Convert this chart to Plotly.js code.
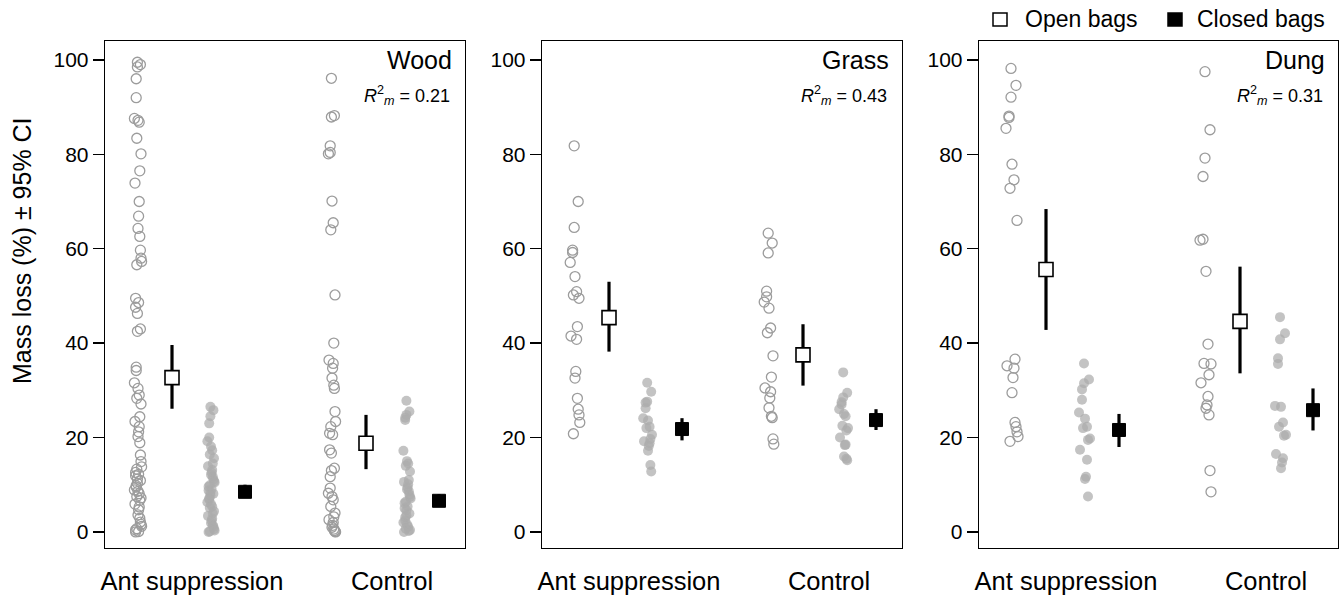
<!DOCTYPE html>
<html>
<head>
<meta charset="utf-8">
<script src="https://cdn.plot.ly/plotly-3.0.1.min.js"></script>
<style>html,body{margin:0;padding:0;background:#fff;}#chart{width:1344px;height:600px;}</style>
</head>
<body>
<div id="chart"></div>
<script>
// ---------- DATA ----------
const panels = ["Wood", "Grass", "Dung"];
const r2m = ["0.21", "0.43", "0.31"];
const groups = ["Ant suppression", "Control"];

// Wood
const woodAntOpen = [99.5, 99.0, 98.5, 96.0, 92.0, 87.6, 87.2, 86.8, 83.4, 80.1, 76.5, 73.9, 70.0, 66.9, 64.3, 62.6, 59.7, 58.0, 57.3, 56.6,
  49.5, 48.6, 47.6, 46.3, 43.0, 42.5, 34.9, 34.2, 31.6, 30.4, 29.0, 28.3, 27.1, 24.4, 23.4, 22.3, 21.2, 20.2, 18.9, 16.3,
  14.9, 13.8, 13.3, 12.6, 12.2, 11.9, 11.2, 10.9, 10.3, 9.8, 9.5, 8.9, 8.6, 8.1, 7.5, 7.2, 6.7, 5.9, 5.3, 4.7,
  3.6, 2.9, 2.1, 1.6, 1.2, 0.7, 0.4, 0.1, 0.0];
const woodAntClosed = [26.5, 25.8, 24.5, 23.0, 20.0, 19.2, 18.1, 17.3, 16.4, 15.6, 14.5, 13.9, 13.1, 12.6, 12.1, 11.7, 11.1, 10.7, 10.5, 9.9,
  9.6, 9.1, 8.8, 8.3, 8.1, 7.7, 7.1, 6.9, 6.3, 5.9, 5.4, 5.1, 4.4, 3.9, 3.4, 2.8, 2.4, 1.9, 1.4, 1.1, 0.6, 0.3, 0.1, 0.0];
const woodCtrlOpen = [96.1, 88.2, 87.9, 81.8, 80.4, 80.1, 70.1, 65.5, 64.0, 50.2, 40.0, 36.4, 35.7, 34.7, 32.6, 31.1, 30.4, 25.5, 23.4, 22.3,
  20.9, 20.6, 17.4, 16.7, 13.5, 13.0, 11.7, 9.3, 8.2, 7.5, 6.8, 5.4, 4.0, 3.2, 2.6, 2.0, 1.4, 1.0, 0.6, 0.3, 0.1, 0.0];
const woodCtrlClosed = [27.8, 25.5, 24.8, 24.2, 23.7, 17.2, 15.0, 14.5, 14.0, 12.8, 11.0, 10.6, 10.1, 9.4, 9.0, 8.6, 7.9, 7.4, 7.1, 6.4,
  6.1, 5.4, 5.0, 4.6, 3.9, 3.5, 3.1, 2.4, 2.0, 1.6, 1.1, 0.7, 0.4, 0.2, 0.0];

// Grass
const grassAntOpen = [81.8, 70.0, 64.5, 59.7, 59.2, 57.1, 54.1, 50.9, 50.2, 49.5, 43.5, 41.5, 40.8, 34.0, 32.6, 28.3, 26.0, 24.8, 23.2, 20.8];
const grassAntClosed = [31.6, 29.7, 27.6, 27.4, 26.2, 24.1, 23.6, 22.3, 22.0, 20.6, 19.7, 19.2, 18.8, 18.2, 17.2, 14.2, 12.8];
const grassCtrlOpen = [63.3, 61.2, 59.1, 51.0, 49.8, 48.7, 47.4, 43.2, 42.2, 37.3, 32.8, 30.5, 29.7, 28.4, 26.3, 24.5, 24.2, 19.7, 18.6];
const grassCtrlClosed = [33.8, 29.5, 28.5, 27.5, 27.0, 26.0, 25.0, 24.5, 22.5, 22.0, 21.5, 20.0, 18.5, 18.4, 16.0, 15.5, 15.2];

// Dung
const dungAntOpen = [98.2, 94.6, 92.1, 88.1, 87.8, 85.5, 77.9, 74.6, 72.8, 66.0, 36.6, 35.2, 34.7, 32.7, 29.5, 23.2, 22.3, 21.2, 20.2, 19.2];
const dungAntClosed = [35.7, 32.3, 31.5, 30.2, 28.0, 25.3, 24.0, 22.3, 22.0, 19.8, 19.5, 17.4, 15.3, 11.7, 11.2, 7.5];
const dungCtrlOpen = [97.5, 85.2, 79.2, 75.3, 62.0, 61.8, 55.2, 39.8, 35.7, 35.6, 33.3, 31.6, 28.7, 26.9, 26.2, 24.8, 13.0, 8.5];
const dungCtrlClosed = [45.5, 42.1, 40.8, 36.8, 35.6, 26.7, 26.5, 23.2, 22.3, 20.6, 20.4, 16.5, 15.6, 14.7, 13.5];

// Means and 95% CI  [Ant suppression, Control]
const woodOpenMean = [32.7, 18.8],   woodOpenLo = [26.1, 13.3],   woodOpenHi = [39.6, 24.8];
const woodClosedMean = [8.5, 6.6],   woodClosedLo = [7.2, 5.3],   woodClosedHi = [10.0, 8.0];
const grassOpenMean = [45.4, 37.5],  grassOpenLo = [38.2, 31.0],  grassOpenHi = [53.0, 44.0];
const grassClosedMean = [21.8, 23.7],grassClosedLo = [19.4, 21.6],grassClosedHi = [24.1, 26.0];
const dungOpenMean = [55.6, 44.6],   dungOpenLo = [42.8, 33.6],   dungOpenHi = [68.4, 56.2];
const dungClosedMean = [21.6, 25.8], dungClosedLo = [18.0, 21.5], dungClosedHi = [25.0, 30.4];

const yTicks = [0, 20, 40, 60, 80, 100];

// ---------- LAYOUT / STYLE ----------
const W = 1344, H = 600;
const FONT = "Liberation Sans, Arial, Helvetica, sans-serif";
const fx = p => p / W;
const fy = p => 1 - p / H;
const boxes = [[105, 465], [542, 902], [979, 1338]];
const yTop = 41, yBot = 548;
// x positions inside each panel (axis units = pixels from panel left)
const pos = {openA: 33, meanA: 67, closedA: 106, cmeanA: 140, openC: 227, meanC: 261, closedC: 302, cmeanC: 334};
const jit = [-1, 3, -4, 2, 5, -3, 0, 4, -5, 1, -2, 6, -6, 3, -1, 2, -4, 5, -2, 0, 4, -3, 1];
const jitScale = [0.6, 0.8, 1.0];

const data = {
  Wood: {antO: woodAntOpen, antC: woodAntClosed, ctlO: woodCtrlOpen, ctlC: woodCtrlClosed,
         om: woodOpenMean, ol: woodOpenLo, oh: woodOpenHi, cm: woodClosedMean, cl: woodClosedLo, ch: woodClosedHi},
  Grass: {antO: grassAntOpen, antC: grassAntClosed, ctlO: grassCtrlOpen, ctlC: grassCtrlClosed,
         om: grassOpenMean, ol: grassOpenLo, oh: grassOpenHi, cm: grassClosedMean, cl: grassClosedLo, ch: grassClosedHi},
  Dung: {antO: dungAntOpen, antC: dungAntClosed, ctlO: dungCtrlOpen, ctlC: dungCtrlClosed,
         om: dungOpenMean, ol: dungOpenLo, oh: dungOpenHi, cm: dungClosedMean, cl: dungClosedLo, ch: dungClosedHi}
};

const traces = [];
const layout = {
  width: W, height: H, margin: {l: 0, r: 0, t: 0, b: 0},
  paper_bgcolor: "#fff", plot_bgcolor: "#fff", showlegend: false,
  font: {family: FONT, color: "#000", size: 16},
  annotations: [], shapes: []
};

function jittered(vals, center, s) {
  return vals.map((v, i) => center + jit[(i * 7) % jit.length] * s);
}

panels.forEach((name, k) => {
  const d = data[name];
  const xa = k === 0 ? "x" : "x" + (k + 1);
  const ya = k === 0 ? "y" : "y" + (k + 1);
  const s = jitScale[k];
  const openStyle = {symbol: "circle-open", size: 10, color: "#9c9c9c", line: {width: 1.3, color: "#9c9c9c"}};
  const closedStyle = {symbol: "circle", size: 10, color: "rgba(172,172,172,0.72)", line: {width: 0}};
  traces.push({type: "scatter", mode: "markers", name: groups[0] + " open", xaxis: xa, yaxis: ya, x: jittered(d.antO, pos.openA, s), y: d.antO, marker: openStyle});
  traces.push({type: "scatter", mode: "markers", name: groups[1] + " open", xaxis: xa, yaxis: ya, x: jittered(d.ctlO, pos.openC, s), y: d.ctlO, marker: openStyle});
  traces.push({type: "scatter", mode: "markers", name: groups[0] + " closed", xaxis: xa, yaxis: ya, x: jittered(d.antC, pos.closedA, s), y: d.antC, marker: closedStyle});
  traces.push({type: "scatter", mode: "markers", name: groups[1] + " closed", xaxis: xa, yaxis: ya, x: jittered(d.ctlC, pos.closedC, s), y: d.ctlC, marker: closedStyle});
  // means with CI
  traces.push({type: "scatter", mode: "markers", name: "Open bags", xaxis: xa, yaxis: ya,
    x: [pos.meanA, pos.meanC], y: d.om,
    error_y: {type: "data", symmetric: false, array: d.oh.map((h, i) => h - d.om[i]), arrayminus: d.om.map((m, i) => m - d.ol[i]), color: "#000", thickness: 3.2, width: 0},
    marker: {symbol: "square", size: 14, color: "#fff", line: {color: "#000", width: 1.6}}});
  traces.push({type: "scatter", mode: "markers", name: "Closed bags", xaxis: xa, yaxis: ya,
    x: [pos.cmeanA, pos.cmeanC], y: d.cm,
    error_y: {type: "data", symmetric: false, array: d.ch.map((h, i) => h - d.cm[i]), arrayminus: d.cm.map((m, i) => m - d.cl[i]), color: "#000", thickness: 3.2, width: 0},
    marker: {symbol: "square", size: 13, color: "#000", line: {color: "#000", width: 1}}});

  const [x0, x1] = boxes[k];
  const xKey = k === 0 ? "xaxis" : "xaxis" + (k + 1);
  const yKey = k === 0 ? "yaxis" : "yaxis" + (k + 1);
  layout[xKey] = {
    domain: [fx(x0), fx(x1)], range: [0, x1 - x0], anchor: ya,
    showline: true, mirror: true, linecolor: "#000", linewidth: 1.3,
    ticks: "", tickvals: [87, 287], ticktext: groups, ticklabelstandoff: 10,
    tickfont: {size: 25.5, family: FONT, color: "#000"},
    showgrid: false, zeroline: false, fixedrange: true
  };
  layout[yKey] = {
    domain: [fy(yBot), fy(yTop)], range: [-3.4, 104], anchor: xa,
    showline: true, mirror: true, linecolor: "#000", linewidth: 1.3,
    ticks: "outside", ticklen: 11, tickwidth: 1.3, tickcolor: "#000",
    tickvals: yTicks, ticktext: yTicks.map(String),
    tickfont: {size: 21, family: FONT, color: "#000"},
    showgrid: false, zeroline: false, fixedrange: true
  };
  layout.annotations.push({xref: "paper", yref: "paper", x: fx(x1 - 11), y: fy(60), xanchor: "right", yanchor: "middle",
    text: name, showarrow: false, font: {size: 25, family: FONT, color: "#000"}});
  layout.annotations.push({xref: "paper", yref: "paper", x: fx(x1 - 13), y: fy(95), xanchor: "right", yanchor: "middle",
    text: "<i>R</i><sup>2</sup><sub><i>m</i></sub> = " + r2m[k], showarrow: false, font: {size: 18, family: FONT, color: "#000"}});
});

// y-axis title
layout.annotations.push({xref: "paper", yref: "paper", x: fx(22), y: fy(251), xanchor: "center", yanchor: "middle",
  textangle: -90, text: "Mass loss (%) ± 95% CI", showarrow: false, font: {size: 25, family: FONT, color: "#000"}});

// legend
layout.shapes.push({type: "rect", xref: "paper", yref: "paper", x0: fx(993), x1: fx(1007), y0: fy(26), y1: fy(13),
  line: {color: "#000", width: 1.5}, fillcolor: "#fff"});
layout.shapes.push({type: "rect", xref: "paper", yref: "paper", x0: fx(1168), x1: fx(1182), y0: fy(26), y1: fy(13),
  line: {color: "#000", width: 1.5}, fillcolor: "#000"});
layout.annotations.push({xref: "paper", yref: "paper", x: fx(1023), y: fy(19.5), xanchor: "left", yanchor: "middle",
  text: "Open bags", showarrow: false, font: {size: 23, family: FONT, color: "#000"}});
layout.annotations.push({xref: "paper", yref: "paper", x: fx(1195), y: fy(19.5), xanchor: "left", yanchor: "middle",
  text: "Closed bags", showarrow: false, font: {size: 23, family: FONT, color: "#000"}});

Plotly.newPlot("chart", traces, layout, {staticPlot: true, displayModeBar: false});
</script>
</body>
</html>
